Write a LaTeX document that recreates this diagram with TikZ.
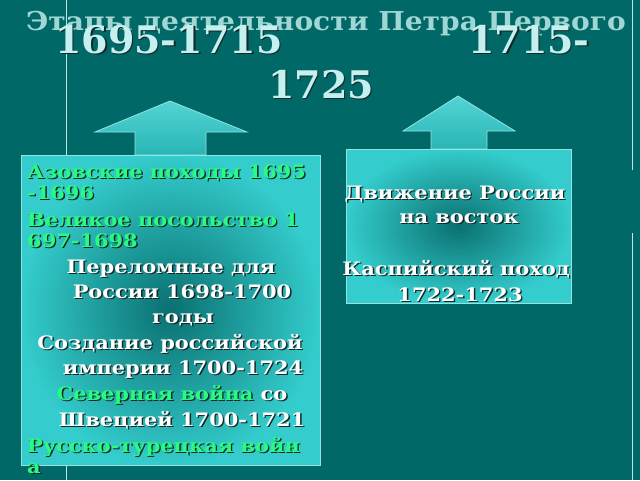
\documentclass[tikz,border=0pt]{standalone}
\usepackage{fontspec}
\setmainfont{DejaVu Serif}
\newfontfamily\wideserif[FakeStretch=1.13]{DejaVu Serif}
\newfontfamily\titleserif[FakeStretch=1.08]{DejaVu Serif}
\usetikzlibrary{shadings}
\definecolor{bgteal}{RGB}{0,104,102}
\definecolor{rulecol}{RGB}{190,230,228}
\definecolor{boxedge}{RGB}{150,225,225}
\definecolor{boxlight}{RGB}{52,204,204}
\definecolor{boxdark}{RGB}{10,112,112}
\definecolor{datecol}{RGB}{196,240,240}
\definecolor{titlecol}{RGB}{160,214,212}
\definecolor{azgreen}{RGB}{40,250,130}
\definecolor{txtshadow}{RGB}{20,40,40}
\newcommand{\sh}[1]{\rlap{\kern1.4pt\raisebox{-1.4pt}{\color{txtshadow}#1}}#1}
\tikzset{
  stagebox/.style={draw=boxedge, line width=0.8pt, inner color=boxdark, outer color=boxlight},
  uparrow/.style={draw=boxedge, line width=0.8pt, top color=boxlight!85!white, bottom color=boxlight!75!boxdark},
  dateline/.style={font=\fontsize{38}{45}\selectfont\bfseries, text=datecol, inner sep=0pt},
  boxline/.style={font=\wideserif\fontsize{18.5}{22}\selectfont\bfseries, inner sep=0pt}
}

\begin{document}
\begin{tikzpicture}[x=1pt,y=-1pt]
        \fill[bgteal] (0,0) rectangle (640,480);
        \useasboundingbox (0,0) rectangle (640,480);
        %\draw[help lines] (0,0) grid (640,480);
        \draw[rulecol, line width=0.7pt] (66,0) -- (66,155) (66,465) -- (66,480);
        \draw[rulecol, line width=0.7pt] (632,0) -- (632,170) (632,233) -- (632,480);
        \node[font=\titleserif\fontsize{26}{30}\selectfont\bfseries, text=titlecol, inner sep=0pt, anchor=base] (title) at (326,30) {Этапы деятельности Петра Первого};
        \node[dateline, anchor=base west] (firstdate) at (55,53) {\sh{1695-1715}};
        \node[dateline, anchor=base west] (seconddate) at (468,53) {\sh{1715-}};
        \node[dateline, anchor=base] (seconddateend) at (321,98) {\sh{1725}};
        \draw[uparrow] (170,101) -- (247,132) -- (206,132) -- (206,155) -- (135,155) -- (135,132) -- (95,132) -- cycle;
        \draw[uparrow] (458,96) -- (515,131) -- (487,131) -- (487,149) -- (431,149) -- (431,131) -- (403,131) -- cycle;
        \draw[stagebox] (21,155) rectangle (320,465);
        \draw[stagebox] (346,149) rectangle (571,303);
        \foreach \y/\txt [count=\i] in {178/{Азовские походы 1695}, 199/{-1696}, 226/{Великое посольство 1}, 247/{697-1698}, 452/{Русско-турецкая войн}, 473/{а}}
                \node[boxline, text=azgreen, anchor=base west] (green\i) at (27,\y) {\sh{\txt}};
        \foreach \x/\y/\txt [count=\i] in {171/273/{Переломные для}, 182/298/{России 1698-1700}, 183/323/{годы}, 170/349/{Создание российской}, 183/374/{империи 1700-1724}, 182/426/{Швецией 1700-1721}}
                \node[boxline, text=white, anchor=base] (white\i) at (\x,\y) {\sh{\txt}};
        \node[boxline, text=white, anchor=base] (northwar) at (172,400) {{\color{azgreen}\sh{Северная война}} \sh{со}};
        \foreach \x/\y/\txt [count=\i] in {455/199/{Движение России}, 459/223/{на восток}, 456/275/{Каспийский поход}, 460/301/{1722-1723}}
                \node[boxline, text=white, anchor=base] (east\i) at (\x,\y) {\sh{\txt}};
\end{tikzpicture}
\end{document}
